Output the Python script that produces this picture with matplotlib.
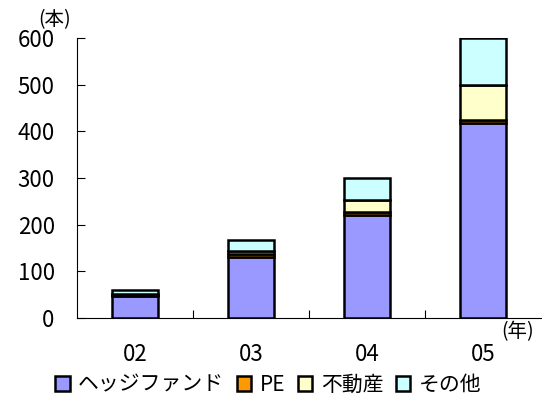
import numpy as np
import matplotlib
matplotlib.use('Agg')
import matplotlib.pyplot as plt

plt.rcParams['font.family'] = ['Noto Sans CJK JP', 'DejaVu Sans']

years = ['02', '03', '04', '05']
hedge = [46, 130, 220, 418]
pe = [4, 8, 7, 6]
realestate = [2, 6, 25, 76]
other = [8, 22, 48, 100]

labels = ['ヘッジファンド', 'PE', '不動産', 'その他']
colors = ['#9999FF', '#FF9900', '#FFFFCC', '#CCFFFF']

fig = plt.figure(figsize=(5.42, 4.03), dpi=100)
ax = fig.add_axes([0.142, 0.211, 0.856, 0.695])

x = np.arange(len(years))
bottom = np.zeros(len(years))
for vals, lab, col in zip([hedge, pe, realestate, other], labels, colors):
    ax.bar(x, vals, width=0.4, bottom=bottom, color=col, edgecolor='black',
           linewidth=1.8, label=lab)
    bottom += np.array(vals)

ax.set_xlim(-0.5, 3.5)
ax.set_ylim(0, 600)
ax.set_yticks(range(0, 601, 100))
ax.tick_params(axis='y', direction='in', length=6, labelsize=16, pad=16)

ax.set_xticks([0.5, 1.5, 2.5])
ax.set_xticklabels([])
ax.set_xticks(x, minor=True)
ax.set_xticklabels(years, minor=True)
ax.tick_params(axis='x', which='major', direction='in', length=6)
ax.tick_params(axis='x', which='minor', length=0, labelsize=16, pad=18)

for s in ['top', 'right']:
    ax.spines[s].set_visible(False)

fig.text(0.1, 0.952, '(本)', fontsize=14, ha='center', va='center')
fig.text(0.955, 0.178, '(年)', fontsize=14, ha='center', va='center')

fig.legend(loc='center', bbox_to_anchor=(0.495, 0.045), ncol=4, frameon=False,
           fontsize=15, handlelength=0.7, handleheight=0.7, handletextpad=0.4,
           columnspacing=0.6, borderpad=0)

plt.savefig('out.png', dpi=100)
